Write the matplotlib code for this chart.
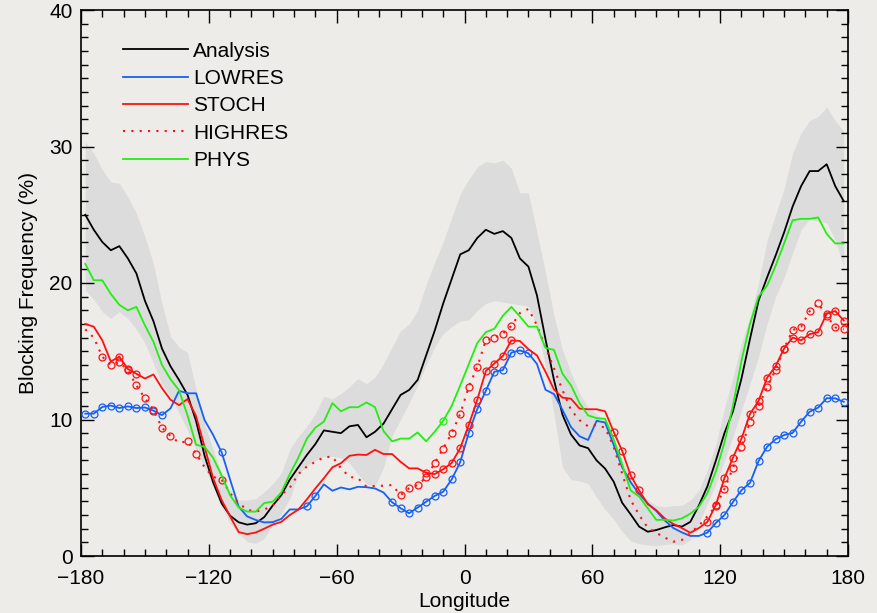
import numpy as np
import matplotlib
matplotlib.use('Agg')
import matplotlib.pyplot as plt
from matplotlib.ticker import MultipleLocator

plt.rcParams['font.family'] = ['Liberation Sans', 'DejaVu Sans']

# longitude grid of the data (4 degree spacing)
lon = np.arange(-178, 179, 4)

analysis = [25.0, 23.9, 23.0, 22.4, 22.7, 21.8, 20.7, 18.7, 17.2, 15.2,
            13.9, 12.9, 11.8, 9.9, 7.35, 5.4, 3.86, 2.95, 2.47, 2.3,
            2.4, 2.85, 3.7, 4.45, 5.6, 6.5, 7.4, 8.2, 9.2, 9.1,
            9.0, 9.5, 9.6, 8.7, 9.1, 9.7, 10.75, 11.8, 12.16, 12.9,
            14.7, 16.5, 18.5, 20.3, 22.1, 22.4, 23.3, 23.9, 23.6, 23.8,
            23.3, 21.8, 21.2, 19.1, 15.9, 12.9, 10.35, 8.9, 8.1, 7.9,
            7.0, 6.4, 5.45, 3.9, 3.05, 2.15, 1.78, 1.9, 2.1, 2.27,
            2.15, 2.5, 3.7, 5.1, 7.0, 9.0, 10.6, 13.0, 15.9, 18.7,
            20.4, 22.0, 23.7, 25.6, 27.1, 28.2, 28.2, 28.7, 27.1, 26.0]

band_hi = [30.35, 29.5, 28.3, 27.4, 27.3, 26.3, 25.1, 23.4, 21.4, 18.5,
           16.1, 15.3, 14.9, 12.2, 9.7, 7.8, 6.06, 4.85, 4.1, 4.1,
           4.2, 4.7, 5.3, 6.06, 7.8, 8.75, 9.5, 10.45, 11.7, 11.5,
           11.9, 12.4, 13.0, 12.6, 13.1, 14.1, 15.3, 16.5, 17.0, 18.0,
           19.9, 21.5, 23.0, 24.8, 26.5, 27.6, 28.5, 28.9, 28.8, 29.0,
           28.4, 26.6, 26.6, 23.7, 20.8, 17.6, 15.1, 13.4, 11.9, 10.9,
           10.4, 9.9, 8.6, 7.1, 5.6, 4.7, 4.1, 3.7, 3.6, 3.7,
           3.7, 4.1, 4.8, 6.3, 8.2, 10.8, 13.1, 15.6, 17.5, 20.0,
           23.1, 25.0, 26.9, 29.5, 31.0, 31.9, 32.2, 32.9, 31.9, 31.1]

band_lo = [19.5, 18.8, 17.9, 17.4, 17.9, 17.4, 16.6, 15.6, 14.1, 12.6,
           11.7, 10.5, 9.2, 7.8, 6.5, 5.1, 3.6, 2.4, 1.66, 1.05,
           0.93, 1.3, 2.27, 3.1, 4.2, 6.0, 6.6, 7.0, 7.3, 7.3,
           7.2, 6.8, 6.0, 5.3, 5.1, 6.5, 8.8, 10.0, 11.2, 12.5,
           14.0, 15.3, 16.3, 16.8, 17.2, 17.3, 18.0, 18.5, 18.7, 18.6,
           18.5, 18.4, 18.3, 16.8, 13.9, 10.4, 6.5, 5.6, 5.5, 5.3,
           4.3, 3.4, 2.7, 1.8, 1.1, 0.9, 0.8, 0.75, 0.85, 0.9,
           0.8, 1.2, 2.4, 3.86, 5.3, 7.0, 8.75, 10.7, 12.6, 14.6,
           17.0, 19.0, 20.4, 22.2, 23.9, 24.7, 24.5, 24.4, 23.15, 21.2]

lowres = [10.43, 10.43, 10.92, 11.02, 10.84, 10.96, 10.84, 10.88, 10.65, 10.32,
          10.81, 12.1, 11.92, 11.92, 9.96, 8.87, 7.6, 5.59, 3.61, 2.9,
          2.64, 2.46, 2.48, 2.72, 3.41, 3.41, 3.64, 4.4, 5.25, 4.78,
          5.02, 4.88, 5.07, 5.04, 4.95, 4.65, 3.94, 3.5, 3.13, 3.55,
          3.98, 4.4, 4.71, 5.61, 6.88, 9.02, 10.77, 12.1, 13.5, 13.62,
          14.9, 15.06, 14.85, 14.07, 12.18, 11.86, 10.7, 9.44, 8.77, 8.5,
          9.9, 9.78, 8.15, 6.5, 5.4, 4.55, 3.85, 3.3, 2.6, 2.05,
          1.73, 1.47, 1.47, 1.72, 2.42, 3.0, 3.95, 4.82, 5.35, 6.95,
          8.0, 8.55, 8.86, 9.02, 9.84, 10.57, 10.87, 11.56, 11.55, 11.3]

stoch = [17.0, 16.8, 15.8, 14.25, 14.6, 13.7, 13.35, 13.0, 13.3, 12.3,
         11.45, 11.05, 11.5, 10.25, 8.0, 5.7, 4.1, 2.9, 1.75, 1.6,
         1.72, 2.0, 2.3, 2.5, 3.0, 3.4, 4.15, 4.95, 5.7, 6.5,
         6.8, 7.34, 7.43, 7.4, 7.78, 7.47, 7.47, 6.9, 6.42, 6.42,
         6.1, 6.0, 6.35, 6.82, 7.9, 9.6, 11.45, 13.55, 14.1, 14.65,
         15.8, 15.75, 15.15, 14.7, 13.5, 12.2, 11.6, 11.52, 10.8, 10.75,
         10.75, 10.6, 9.1, 7.7, 5.9, 4.8, 3.8, 3.35, 2.75, 2.35,
         2.05, 1.7, 2.05, 2.5, 3.75, 5.7, 7.2, 8.6, 10.4, 11.35,
         13.05, 13.9, 15.2, 16.0, 15.8, 16.25, 16.4, 17.75, 17.95, 17.25]

highres = [16.6, 16.0, 14.6, 14.0, 14.2, 13.6, 12.5, 11.55, 10.7, 9.4,
           8.8, 8.3, 8.4, 7.5, 6.5, 5.8, 5.6, 4.6, 3.86, 3.4,
           3.25, 3.4, 3.7, 4.5, 5.0, 6.0, 6.55, 6.9, 7.23, 7.28,
           6.43, 5.8, 5.7, 5.08, 5.13, 5.15, 5.2, 4.47, 4.96, 5.2,
           5.76, 6.8, 7.87, 8.99, 10.42, 12.4, 13.85, 15.8, 15.97, 16.3,
           16.85, 17.8, 18.1, 16.9, 15.3, 13.75, 12.15, 10.7, 9.95, 9.5,
           9.6, 9.4, 8.0, 6.03, 4.1, 3.0, 2.07, 1.7, 1.35, 1.05,
           1.17, 1.68, 2.23, 2.9, 3.67, 4.9, 6.45, 8.0, 9.8, 11.0,
           12.35, 13.65, 15.2, 16.55, 16.8, 17.93, 18.5, 17.6, 16.75, 16.6]

phys = [21.4, 20.2, 20.2, 19.2, 18.4, 18.0, 18.25, 16.9, 15.7, 14.0,
        12.95, 12.15, 10.3, 8.15, 8.0, 7.2, 5.9, 4.45, 3.55, 3.25,
        3.25, 3.88, 3.98, 4.65, 6.0, 7.2, 8.6, 9.4, 9.85, 11.2,
        10.6, 10.9, 10.9, 11.25, 10.9, 9.15, 8.4, 8.6, 8.6, 9.05,
        8.4, 9.1, 9.9, 11.0, 12.5, 14.05, 15.6, 16.4, 16.65, 17.6,
        18.25, 17.55, 16.8, 16.8, 15.25, 15.1, 13.35, 12.5, 11.2, 10.3,
        10.1, 10.05, 8.55, 6.7, 4.8, 4.35, 3.5, 2.65, 2.65, 2.6,
        2.75, 3.1, 3.6, 4.6, 6.2, 8.3, 11.0, 14.3, 17.0, 19.0,
        19.8, 21.25, 22.9, 24.6, 24.7, 24.7, 24.8, 23.6, 22.9, 22.9]

# points flagged with circles
lowres_marks = list(range(0, 10)) + [16, 26, 27] + list(range(36, 53)) + list(range(73, 90))
stoch_marks = [4, 5, 6] + list(range(40, 51)) + list(range(62, 66)) + list(range(73, 90))
highres_marks = list(range(2, 11)) + [12, 13, 16] + list(range(37, 51)) + list(range(74, 90))
phys_marks = [42]

bg = '#EDECE9'
fig = plt.figure(figsize=(8.77, 6.13), dpi=100, facecolor=bg)
ax = fig.add_axes([81 / 877, 57 / 613, 767 / 877, 546 / 613])
ax.set_facecolor(bg)

ax.fill_between(lon, band_lo, band_hi, color='#DCDCDC', lw=0, zorder=1)

mk = dict(marker='o', mfc='none', ms=5, mew=0.9)
ax.plot(lon, analysis, color='black', lw=1.3, label='Analysis', zorder=3)
ax.plot(lon, lowres, color='#1560F5', lw=1.3, label='LOWRES', markevery=lowres_marks, zorder=3, **mk)
ax.plot(lon, stoch, color='#FF1010', lw=1.3, label='STOCH', markevery=stoch_marks, zorder=3, **mk)
ax.plot(lon, highres, color='#FF1010', lw=1.5, ls=(0, (1, 3)), label='HIGHRES',
        markevery=highres_marks, zorder=3, **mk)
ax.plot(lon, phys, color='#22EE11', lw=1.3, label='PHYS', markevery=phys_marks, zorder=3, **mk)

ax.set_xlim(-180, 180)
ax.set_ylim(0, 40)
ax.xaxis.set_major_locator(MultipleLocator(60))
ax.xaxis.set_minor_locator(MultipleLocator(10))
ax.yaxis.set_major_locator(MultipleLocator(10))
ax.yaxis.set_minor_locator(MultipleLocator(1))
ax.tick_params(which='both', direction='in', top=True, right=True, width=1.0, labelsize=15)
ax.tick_params(which='major', length=9)
ax.tick_params(which='minor', length=5)
ax.tick_params(axis='x', pad=9)
ax.tick_params(axis='y', pad=6)
for s in ax.spines.values():
    s.set_linewidth(1.2)

ax.set_xlabel('Longitude', fontsize=15, labelpad=3)
ax.set_ylabel('Blocking Frequency (%)', fontsize=15, labelpad=8)

# legend without markers
handles, labels = ax.get_legend_handles_labels()
leg = ax.legend(handles, labels, loc='upper left', bbox_to_anchor=(0.055, 0.942),
                frameon=False, fontsize=15, handlelength=3.1, handletextpad=0.25,
                labelspacing=0.4, borderpad=0, borderaxespad=0)
for h in leg.legend_handles:
    h.set_marker('')

fig.savefig('out.png', dpi=100, facecolor=bg)
